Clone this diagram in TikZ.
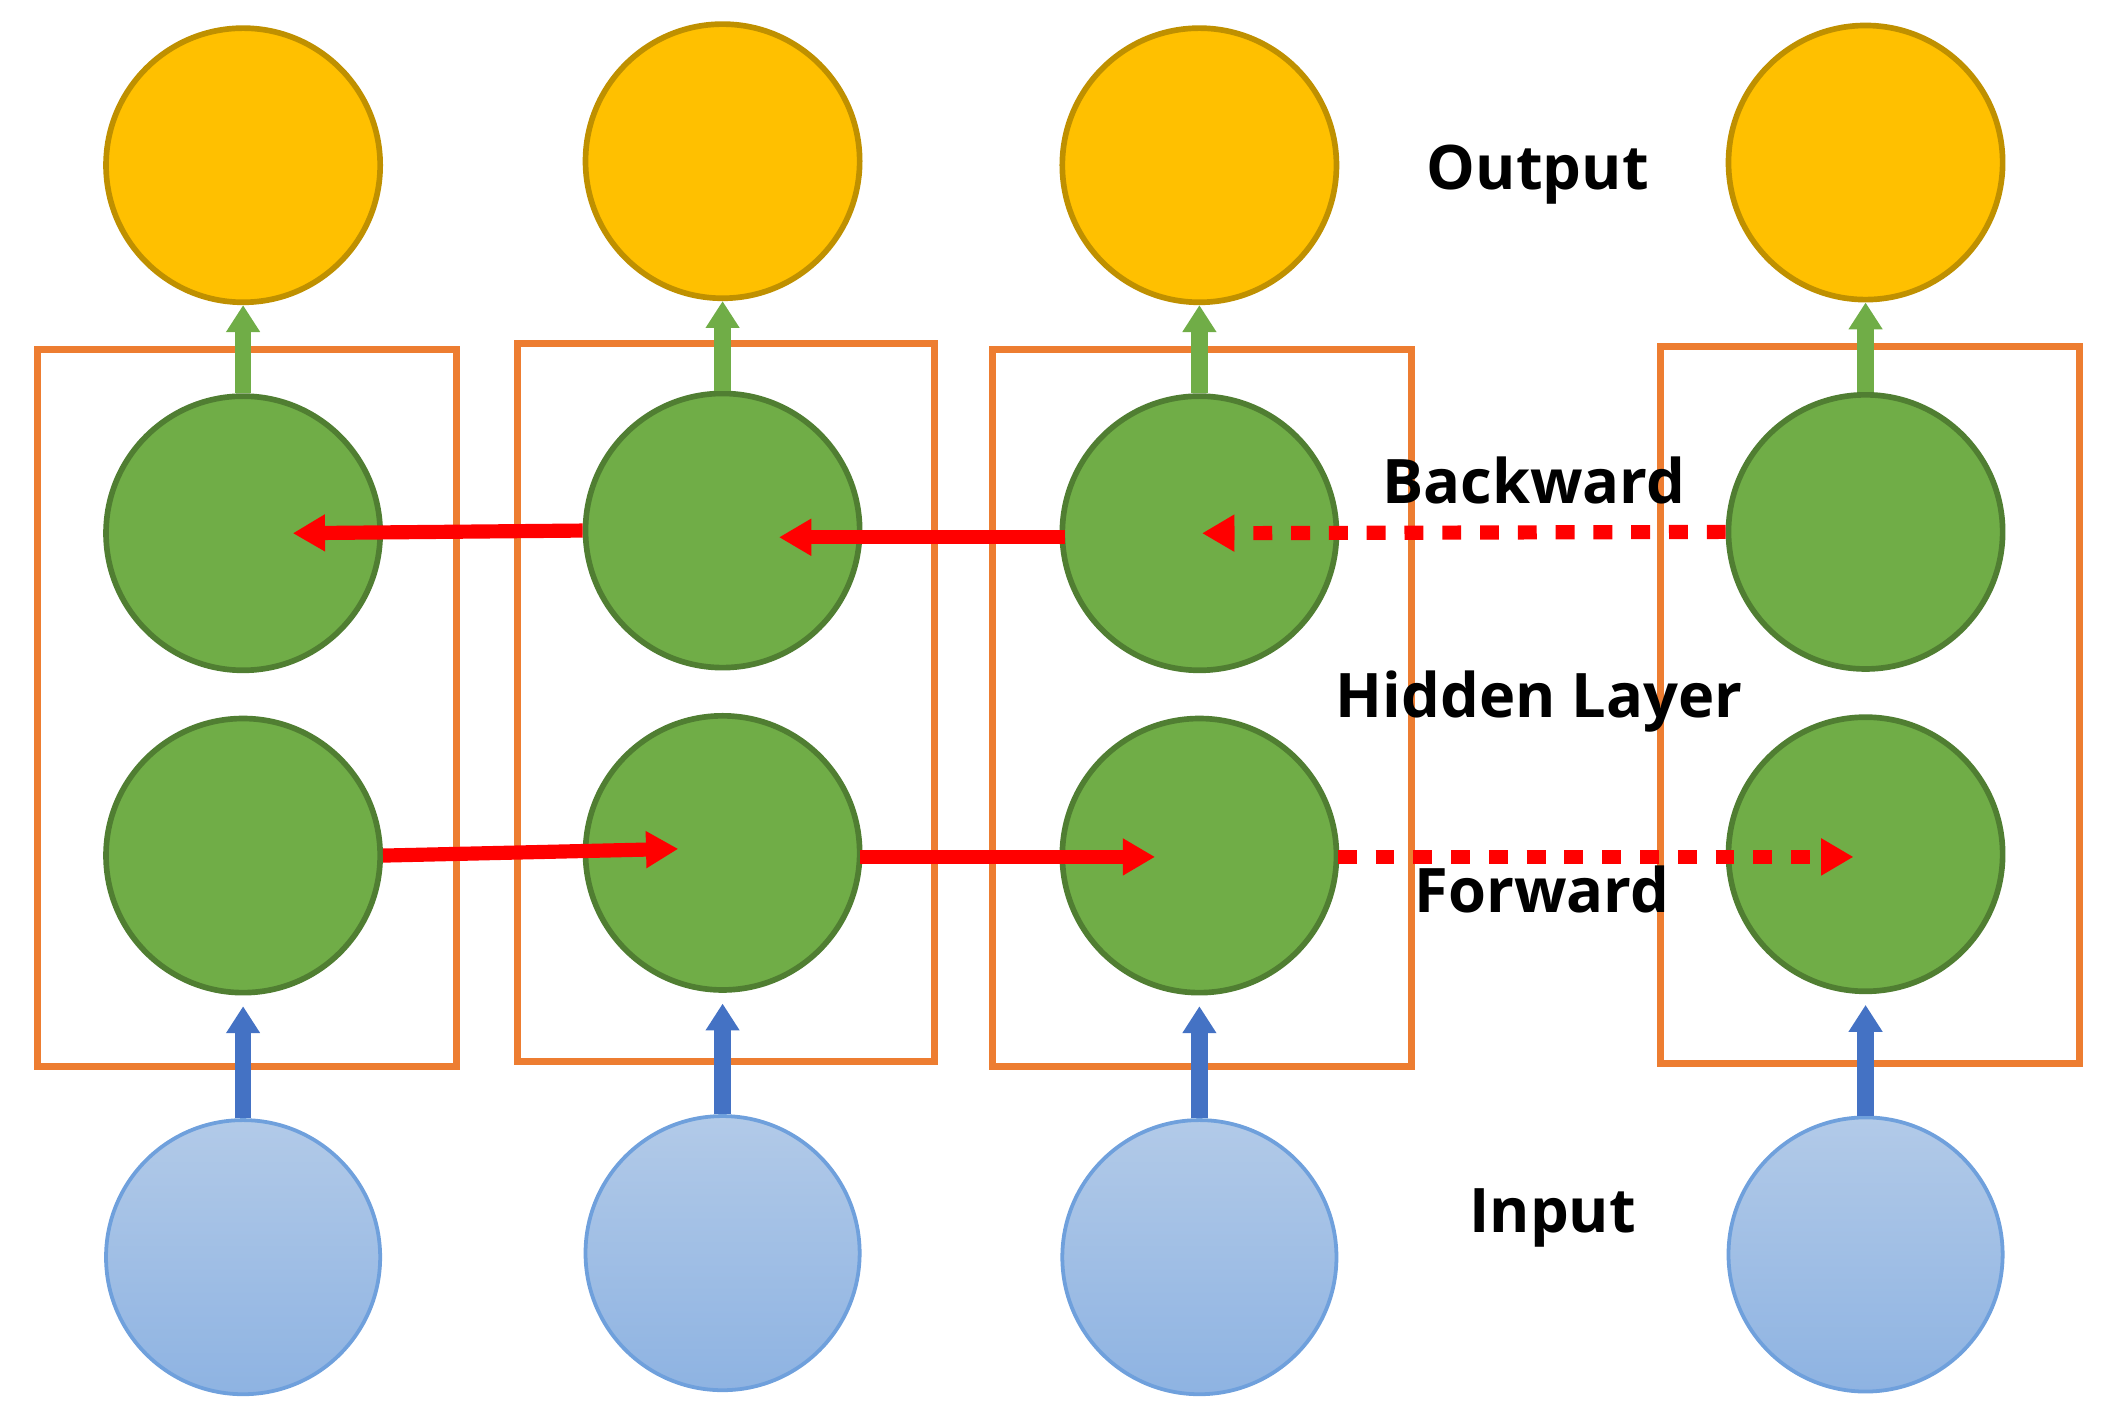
\documentclass[tikz,border=0pt]{standalone}
\usepackage{fontspec}
\setmainfont{Open Sans}
\usetikzlibrary{arrows.meta}
\definecolor{outf}{HTML}{FFC000}\definecolor{outd}{HTML}{BF9000}
\definecolor{hidf}{HTML}{70AD47}\definecolor{hidd}{HTML}{507E32}
\definecolor{inT}{HTML}{B2CAE8}\definecolor{inB}{HTML}{8EB3E2}\definecolor{inD}{HTML}{6FA0DC}
\definecolor{boxc}{HTML}{ED7D31}\definecolor{blu}{HTML}{4472C4}
\begin{document}
\begin{tikzpicture}[x=0.01cm,y=-0.01cm,
 outnode/.style={circle,minimum size=2.04cm,inner sep=0,fill=outf,draw=outd,line width=1.2pt},
 hidnode/.style={circle,minimum size=2.04cm,inner sep=0,fill=hidf,draw=hidd,line width=1.2pt},
 inpnode/.style={circle,minimum size=2.04cm,inner sep=0,top color=inT,bottom color=inB,draw=inD,line width=0.8pt},
 layerbox/.style={draw=boxc,line width=1.5pt},
 redarr/.style={draw=red,line width=3pt,-{Triangle[length=0.24cm,width=0.26cm]}},
 dotarr/.style={redarr,dash pattern=on 4pt off 4pt},
 uparr/.style={line width=3.5pt,-{Triangle[length=0.2cm,width=0.24cm]}},
 lab/.style={font=\bfseries\fontsize{13}{15}\selectfont}]
\useasboundingbox (0,0) rectangle (1568,1062);
\draw[layerbox] (28,260) rectangle (340,794);
\draw[layerbox] (385,256) rectangle (696,790);
\draw[layerbox] (739,260) rectangle (1051,794);
\draw[layerbox] (1236,258) rectangle (1548,792);
\foreach \n/\x/\yo/\yb/\yf/\yi in {1/181/123/397/637/936,2/538/120/395/635/933,3/893/123/397/637/936,4/1389/121/396/636/934}{
 \node[outnode] (o\n) at (\x,\yo) {};
 \node[hidnode] (b\n) at (\x,\yb) {};
 \node[hidnode] (f\n) at (\x,\yf) {};
 \node[inpnode] (i\n) at (\x,\yi) {};
 \draw[uparr,hidf] (b\n.north) -- (o\n.south);
 \draw[uparr,blu] (i\n.north) -- ([yshift=-0.08cm]f\n.south);
}
\coordinate (tb1) at (218,397);
\coordinate (tb2) at (580,400);
\coordinate (tb3) at (895,397);
\coordinate (tf2) at (505,632);
\coordinate (tf3) at (860,638);
\coordinate (tf4) at (1380,638);
\coordinate (sb3) at (793,400);
\coordinate (sf2) at (640,638);
\coordinate (sf3) at (996,638);
\draw[redarr] (b2.west) -- (tb1);
\draw[redarr] (sb3) -- (tb2);
\draw[dotarr] (b4.west) -- (tb3);
\draw[redarr] (f1.east) -- (tf2);
\draw[redarr] (sf2) -- (tf3);
\draw[dotarr] (sf3) -- (tf4);
\node[lab] (lo) at (1145,130) {Output};
\node[lab] (lb) at (1142,358) {Backward};
\node[lab] (lh) at (1146,522) {Hidden Layer};
\node[lab] (lf) at (1148,662) {Forward};
\node[lab] (li) at (1156,907) {Input};
\end{tikzpicture}
\end{document}
